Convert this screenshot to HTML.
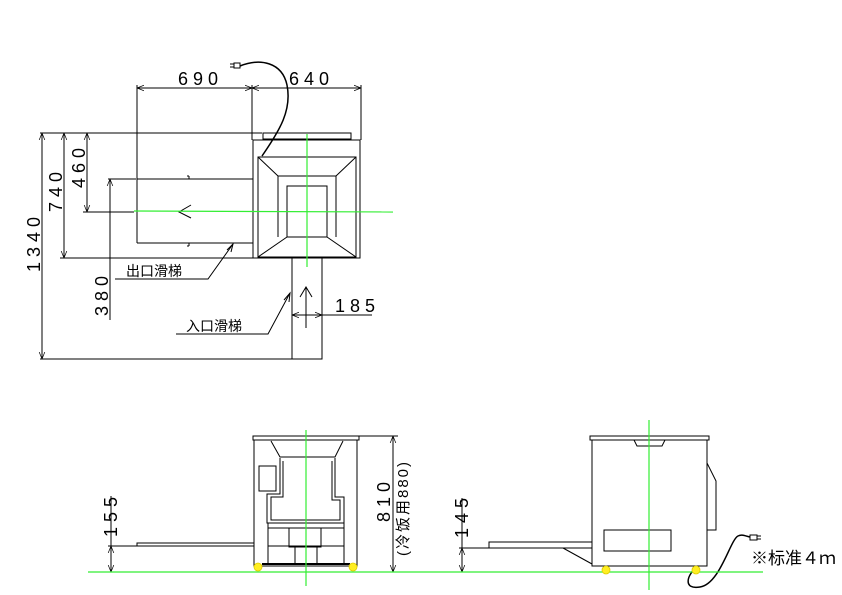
<!DOCTYPE html>
<html><head><meta charset="utf-8"><style>
html,body{margin:0;padding:0;background:#fff}
svg{display:block}
text{font-family:"Liberation Sans","Noto Sans CJK SC",sans-serif;fill:#000}
</style></head><body>
<svg width="842" height="595" viewBox="0 0 842 595" xmlns="http://www.w3.org/2000/svg">
<defs>
<marker id="a" viewBox="0 0 10 10" refX="10" refY="5" markerWidth="7" markerHeight="7" orient="auto-start-reverse"><path d="M0,1 L10,5 L0,9" fill="none" stroke="#000" stroke-width="1"/></marker>
</defs>
<g stroke="#000" stroke-width="1" fill="none">
<!-- TOP VIEW -->
<line x1="137" y1="85" x2="137" y2="243"/>
<line x1="252" y1="85" x2="252" y2="140"/>
<line x1="361" y1="85" x2="361" y2="140"/>
<line x1="137" y1="88" x2="252" y2="88" marker-start="url(#a)" marker-end="url(#a)"/>
<line x1="252" y1="88" x2="361" y2="88" marker-start="url(#a)" marker-end="url(#a)"/>
<line x1="40" y1="133" x2="262" y2="133"/>
<rect x="263" y="133" width="88" height="6"/>
<rect x="253" y="140" width="107" height="118"/>
<rect x="258" y="157" width="98" height="100"/>
<polyline points="278,237 278,176 336,176 336,237"/>
<rect x="287" y="186" width="40" height="51"/>
<line x1="258" y1="157" x2="278" y2="176"/><line x1="356" y1="157" x2="336" y2="176"/>
<line x1="258" y1="257" x2="287" y2="237"/><line x1="356" y1="257" x2="327" y2="237"/>
<path d="M137,179 H253 M137,243 H253"/>
<path d="M189,176 v3 M189,243 v3 M187,176 h2 M187,246 h2"/>
<path d="M191,205 L179,212 L191,218"/>
<line x1="60" y1="258" x2="253" y2="258"/>
<rect x="292" y="258" width="30" height="101"/>
<line x1="40" y1="359" x2="292" y2="359"/>
<line x1="306" y1="328" x2="306" y2="287"/><path d="M300,297 L306,287 L312,297"/>
<line x1="292" y1="315" x2="322" y2="315" marker-start="url(#a)" marker-end="url(#a)"/>
<line x1="322" y1="315" x2="372" y2="315"/>
<line x1="42" y1="133" x2="42" y2="359" marker-start="url(#a)" marker-end="url(#a)"/>
<line x1="64" y1="133" x2="64" y2="258" marker-start="url(#a)" marker-end="url(#a)"/>
<line x1="87" y1="133" x2="87" y2="212" marker-start="url(#a)" marker-end="url(#a)"/>
<line x1="83" y1="212" x2="134" y2="212"/>
<line x1="108" y1="179" x2="136" y2="179"/>
<line x1="110" y1="179" x2="110" y2="320" marker-start="url(#a)"/>
<polyline points="115,279 208,279 233,244"/>
<path d="M227,250 L233,244 L231,252"/>
<polyline points="176,334 268,334 290,293"/>
<path d="M284,300 L290,293 L289,302"/>
<path d="M262,156 C280,130 292,110 287,85 C282,62 260,58 240,66" stroke-width="1.5"/>
<rect x="234" y="63" width="6" height="5"/><path d="M234,64 h-4 M234,67 h-4"/>
<!-- FRONT VIEW -->
<rect x="253" y="436" width="106" height="4"/>
<rect x="254" y="440" width="103" height="126"/>
<path d="M271,441 L280,457 L335,457 L343,441"/>
<polyline points="280,458 280,494 267,494 267,523 344,523 344,497 335,497 335,458"/>
<polyline points="283,461 283,497 271,497 271,520 340,520 340,500 332,500 332,461"/>
<rect x="259" y="466" width="17" height="25"/>
<line x1="268" y1="528" x2="344" y2="528"/>
<rect x="289" y="528" width="32" height="19"/>
<line x1="268" y1="546" x2="344" y2="546"/>
<line x1="262" y1="564" x2="350" y2="564" stroke-width="2"/>
<line x1="268" y1="523" x2="268" y2="564"/><line x1="344" y1="523" x2="344" y2="564"/>
<line x1="295" y1="547" x2="295" y2="564"/><line x1="317" y1="547" x2="317" y2="564"/>
<rect x="137" y="543" width="117" height="3"/>
<line x1="359" y1="436" x2="398" y2="436"/>
<line x1="393" y1="436" x2="393" y2="572" marker-start="url(#a)" marker-end="url(#a)"/>
<line x1="108" y1="546" x2="137" y2="546"/>
<line x1="111" y1="546" x2="111" y2="572" marker-start="url(#a)" marker-end="url(#a)"/>
<line x1="111" y1="496" x2="111" y2="546"/>
<!-- SIDE VIEW -->
<rect x="590" y="436" width="119" height="4"/>
<rect x="592" y="440" width="115" height="126"/>
<path d="M634,440 L637,446 L662,446 L665,440"/>
<polyline points="707,463 716,481 716,530 707,530"/>
<rect x="604" y="530" width="67" height="21"/>
<rect x="489" y="542" width="103" height="6"/>
<line x1="563" y1="548" x2="592" y2="564"/>
<line x1="459" y1="548" x2="489" y2="548"/>
<line x1="462" y1="548" x2="462" y2="572" marker-start="url(#a)" marker-end="url(#a)"/>
<line x1="462" y1="498" x2="462" y2="548"/>
<path d="M698,566 C686,575 683,590 700,587 C720,584 730,540 738,536 C742,534 745,536 750,537" stroke-width="1.5"/>
<rect x="750" y="535" width="7" height="5"/><path d="M757,536 h4 M757,539 h4"/>
</g>
<g stroke="#33ee33" stroke-width="1.2">
<line x1="134" y1="211" x2="393" y2="212"/>
<line x1="307" y1="134" x2="307" y2="267"/>
<line x1="88" y1="572" x2="440" y2="572"/>
<line x1="306" y1="430" x2="306" y2="586"/>
<line x1="440" y1="572" x2="763" y2="572"/>
<line x1="649" y1="420" x2="649" y2="590"/>
</g>
<g fill="#ffee22" stroke="#ddcc00" stroke-width="0.8">
<circle cx="258" cy="567" r="4"/><circle cx="353" cy="567" r="4"/>
<circle cx="606" cy="570" r="4"/><circle cx="696" cy="570" r="4"/>
</g>
<g font-size="18">
<text x="178" y="85" letter-spacing="5">690</text>
<text x="289" y="85" letter-spacing="5">640</text>
<text x="335" y="312" letter-spacing="5">185</text>
<text transform="translate(40,272) rotate(-90)" letter-spacing="5">1340</text>
<text transform="translate(62,212) rotate(-90)" letter-spacing="5">740</text>
<text transform="translate(85,188) rotate(-90)" letter-spacing="5">460</text>
<text transform="translate(108,316) rotate(-90)" letter-spacing="5">380</text>
<text transform="translate(117,537) rotate(-90)" letter-spacing="5">155</text>
<text transform="translate(468,538) rotate(-90)" letter-spacing="5">145</text>
<text transform="translate(390,522) rotate(-90)" letter-spacing="5">810</text>
<text transform="translate(408,556) rotate(-90)" font-size="15" letter-spacing="2">(冷饭用880)</text>
<text x="751" y="564" font-size="17">※标准４ｍ</text>
</g>
<g font-size="14">
<text x="126" y="276">出口滑梯</text>
<text x="186" y="331">入口滑梯</text>
</g>
</svg>
</body></html>
